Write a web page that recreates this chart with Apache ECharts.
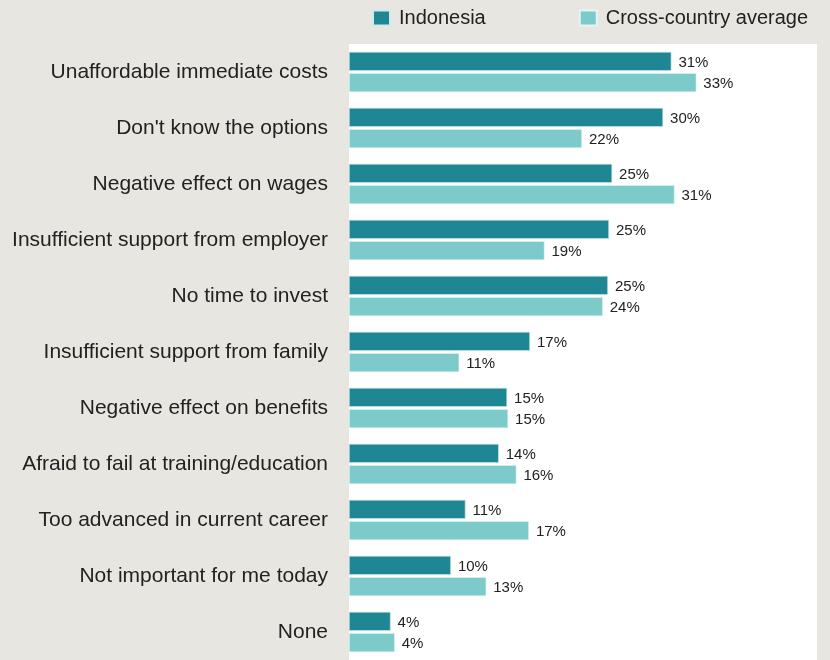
<!DOCTYPE html>
<html>
<head>
    <meta charset="utf-8">
    <title>Barriers to training</title>
    <script src="https://cdn.jsdelivr.net/npm/echarts@6/dist/echarts.min.js"></script>
    <style>
        html, body { margin: 0; padding: 0; background: #e8e6e1; }
    </style>
</head>
<body>
    <div id="main" style="width:830px;height:660px"></div>
    <script type="text/javascript">
        // categories, top to bottom
        var categories = [
            'Unaffordable immediate costs',
            "Don't know the options",
            'Negative effect on wages',
            'Insufficient support from employer',
            'No time to invest',
            'Insufficient support from family',
            'Negative effect on benefits',
            'Afraid to fail at training/education',
            'Too advanced in current career',
            'Not important for me today',
            'None'
        ];
        // shares in %
        var indonesia = [31.0, 30.2, 25.3, 25.0, 24.9, 17.4, 15.2, 14.4, 11.2, 9.8, 4.0];
        var crossCountry = [33.4, 22.4, 31.3, 18.8, 24.4, 10.6, 15.3, 16.1, 17.3, 13.2, 4.4];

        var chart = echarts.init(document.getElementById('main'));

        var labelCfg = {
            show: true,
            position: 'right',
            distance: 7,
            offset: [0, 1],
            color: '#222',
            fontSize: 15,
            fontFamily: 'Liberation Sans',
            formatter: function (p) { return Math.round(p.value) + '%'; }
        };

        chart.setOption({
            backgroundColor: '#e8e6e1',
            animation: false,
            legend: {
                left: 367,
                top: 3,
                itemWidth: 17,
                itemHeight: 15,
                itemGap: 93,
                icon: 'rect',
                textStyle: { fontSize: 20, color: '#222', fontFamily: 'Liberation Sans', padding: [0, 0, 0, 4] },
                data: ['Indonesia', 'Cross-country average']
            },
            grid: {
                left: 349,
                top: 44,
                width: 468,
                height: 619,
                show: true,
                backgroundColor: '#ffffff',
                borderWidth: 0
            },
            xAxis: {
                type: 'value',
                min: 0,
                max: 45,
                show: false
            },
            yAxis: {
                type: 'category',
                inverse: true,
                data: categories,
                axisLine: { show: false },
                axisTick: { show: false },
                axisLabel: { margin: 21, fontSize: 21, color: '#222', fontFamily: 'Liberation Sans', padding: [6, 0, 0, 0] }
            },
            series: [
                {
                    name: 'Indonesia',
                    type: 'bar',
                    data: indonesia,
                    barWidth: 19,
                    barGap: '12%',
                    itemStyle: { color: '#1f8794', borderColor: '#cfeaec', borderWidth: 0.6 },
                    label: labelCfg
                },
                {
                    name: 'Cross-country average',
                    type: 'bar',
                    data: crossCountry,
                    barWidth: 19,
                    itemStyle: { color: '#7ccbca', borderColor: '#e3f4f3', borderWidth: 0.6 },
                    label: labelCfg
                }
            ]
        });
    </script>
</body>
</html>
